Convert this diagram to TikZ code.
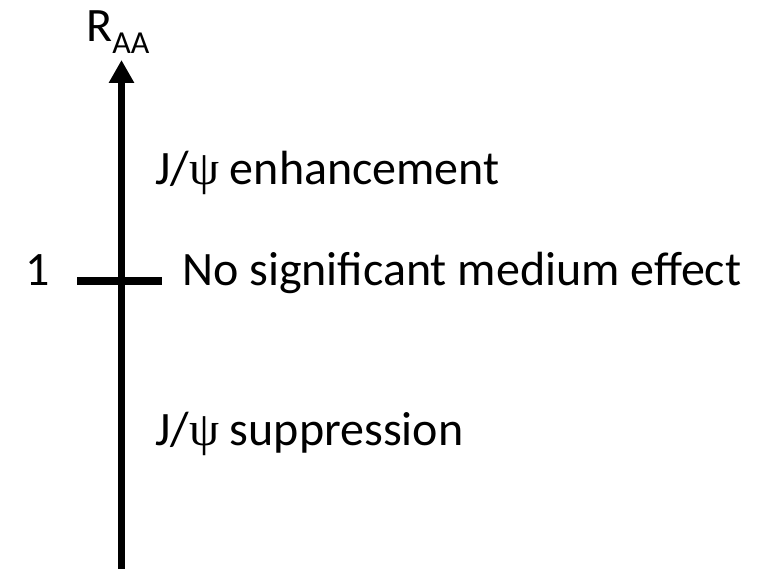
\documentclass[tikz,border=0pt]{standalone}
\usepackage{fontspec}
\setmainfont{Carlito}
\newfontfamily\greekfont{Liberation Serif}
\usetikzlibrary{arrows.meta}

\tikzset{
  lbl/.style={font=\fontsize{48}{56}\selectfont, inner sep=0pt, anchor=base west},
}

\begin{document}
\begin{tikzpicture}[x=1pt,y=-1pt]
  \useasboundingbox (0,0) rectangle (771,569);
  % axis
  \coordinate (bot) at (121.5,569);
  \coordinate (top) at (121.5,60);
  \draw[line width=7pt, -{Triangle[width=24pt,length=23pt]}] (bot) -- (top);
  % tick at 1
  \coordinate (tickl) at (77,281);
  \coordinate (tickr) at (162,281);
  \draw[line width=8pt] (tickl) -- (tickr);
  \node[lbl] (one) at (25,286) {1};
  \node[lbl] (raa) at (86,42) {R\raisebox{-12pt}{\fontsize{32}{35}\selectfont AA}};
  \node[lbl] (enh) at (155,185) {J/{\greekfont ψ} enhancement};
  \node[lbl] (none) at (182,286) {No significant medium effect};
  \node[lbl] (sup) at (155,445) {J/{\greekfont ψ} suppression};
\end{tikzpicture}
\end{document}
